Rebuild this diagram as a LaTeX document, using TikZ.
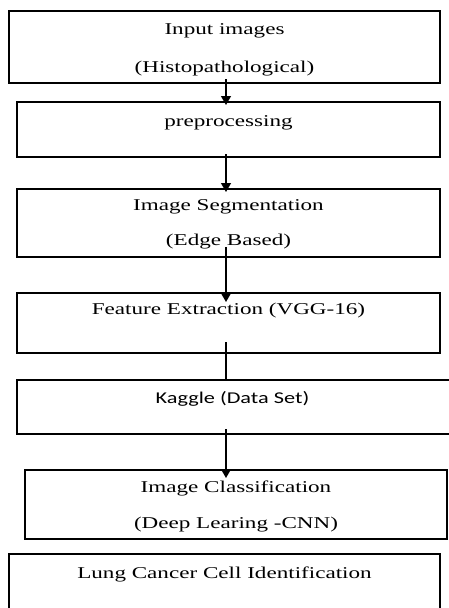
\documentclass[tikz,border=0pt]{standalone}
\usepackage{fontspec}
\usepackage{tikz}
\usetikzlibrary{calc,arrows.meta}
\setmainfont{Liberation Serif}[FakeStretch=1.4]
\newfontfamily\kagglefont{Carlito}[FakeStretch=1.35]

\begin{document}
\begin{tikzpicture}[x=1pt,y=-1pt]
    \tikzstyle{box}=[draw,rectangle,line width=1.2pt,inner sep=0pt]
    \tikzstyle{txt}=[anchor=base,inner sep=0pt,font=\fontsize{16.5}{19}\selectfont]
    \tikzstyle{flow}=[line width=1.3pt,-{Triangle[length=9pt,width=10pt]}]

    \useasboundingbox (0,0) rectangle (448,608);
    \fill[white] (0,0) rectangle (448,608);

    % Boxes, top to bottom
    \node[box,minimum width=431pt,minimum height=72pt] (B1) at (224.5,47) {};
    \node[box,minimum width=423pt,minimum height=55pt] (B2) at (228.5,129.5) {};
    \node[box,minimum width=423pt,minimum height=68pt] (B3) at (228.5,223) {};
    \node[box,minimum width=423pt,minimum height=60pt] (B4) at (228.5,323) {};
    \node[box,minimum width=433pt,minimum height=54pt] (B5) at (233.5,407) {}; % runs off the right side
    \node[box,minimum width=422pt,minimum height=69pt] (B6) at (236,504.5) {};
    \node[box,minimum width=431pt,minimum height=71pt] (B7) at (224.5,589.5) {}; % runs off the bottom

    % Texts
    \node[txt] (T1a) at (224.5,34) {Input images};
    \node[txt] (T1b) at (224.5,72) {(Histopathological)};
    \node[txt] (T2) at (228.5,126) {preprocessing};
    \node[txt] (T3a) at (228.5,210) {Image Segmentation};
    \node[txt] (T3b) at (228.5,245) {(Edge Based)};
    \node[txt] (T4) at (228.5,314) {Feature Extraction (VGG-16)};
    \node[txt,font=\fontsize{16.5}{19}\kagglefont] (T5) at (232.5,403) {Kaggle (Data Set)};
    \node[txt] (T6a) at (236,492) {Image Classification};
    \node[txt] (T6b) at (236,528) {(Deep Learing -CNN)};
    \node[txt] (T7) at (224.5,578) {Lung Cancer Cell Identification};

    % Start and end points of the connectors
    \coordinate (S1) at (226,79);
    \coordinate (E1) at (226,105);
    \coordinate (S2) at (226,154);
    \coordinate (E2) at (226,192);
    \coordinate (S3) at (226,247);
    \coordinate (E3) at (226,302);
    \coordinate (S4) at (226,342);
    \coordinate (E4) at (226,380);
    \coordinate (S5) at (226,429);
    \coordinate (E5) at (226,478);

    \draw[flow] (S1) -- (E1);
    \draw[flow] (S2) -- (E2);
    \draw[flow] (S3) -- (E3);
    \draw[line width=1.3pt] (S4) -- (E4); % no head here
    \draw[flow] (S5) -- (E5);
\end{tikzpicture}
\end{document}
